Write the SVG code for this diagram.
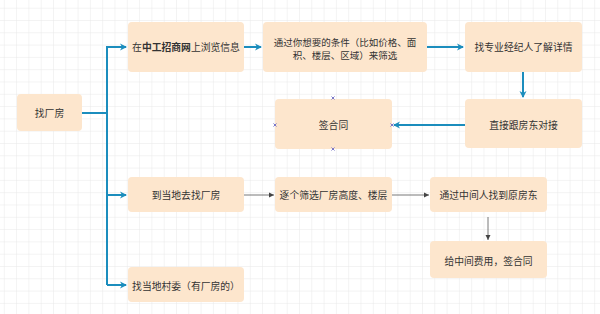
<svg xmlns="http://www.w3.org/2000/svg" width="600" height="314" viewBox="0 0 600 314">
<style>
.box{fill:#fde6cd;}
.t{font-family:"Noto Sans CJK SC","Liberation Sans",sans-serif;font-size:9.8px;fill:#333;text-anchor:middle;dominant-baseline:central;}
.t2{font-size:9.5px;}
.blue{stroke:#1b8dbd;stroke-width:2;fill:none;}
.gray{stroke:#555;stroke-width:0.8;fill:none;}
.x{stroke:#7a78c8;stroke-width:1;}
</style>
<defs>
<pattern id="grid" patternUnits="userSpaceOnUse" x="3.8" y="7.7" width="12.3" height="12.3">
<path d="M0 0H12.3M0 0V12.3" stroke="#e8e8e8" stroke-width="1" fill="none"/>
</pattern>
<marker id="ab" markerWidth="8" markerHeight="8" refX="6" refY="4" orient="auto" markerUnits="userSpaceOnUse">
<path d="M0 0.5L7 4L0 7.5L2 4Z" fill="#1b8dbd"/>
</marker>
<marker id="ag" markerWidth="6" markerHeight="6" refX="5" refY="3" orient="auto" markerUnits="userSpaceOnUse">
<path d="M0 0.5L5 3L0 5.5Z" fill="#444"/>
</marker>
</defs>
<rect width="600" height="314" fill="#ffffff"/>
<rect width="600" height="314" fill="url(#grid)"/>

<g id="connectors">
<path class="blue" d="M82 113H107"/>
<path class="blue" d="M107 285V47H126" marker-end="url(#ab)"/>
<path class="blue" d="M107 195H126" marker-end="url(#ab)"/>
<path class="blue" d="M107 285H126" marker-end="url(#ab)"/>
<path class="blue" d="M244 47H261" marker-end="url(#ab)"/>
<path class="blue" d="M427 47H463" marker-end="url(#ab)"/>
<path class="blue" d="M523 72V97" marker-end="url(#ab)"/>
<path class="blue" d="M465 125H394" marker-end="url(#ab)"/>
<path class="gray" d="M244 195H274" marker-end="url(#ag)"/>
<path class="gray" d="M392 195H429" marker-end="url(#ag)"/>
<path class="gray" d="M488 217V240" marker-end="url(#ag)"/>
</g>

<g id="n-zhaochangfang"><rect class="box" x="17" y="94" width="65" height="37" rx="4"/><text class="t" x="49.5" y="113">找厂房</text></g>
<g id="n-liulan"><rect class="box" x="128" y="22" width="116" height="50" rx="4"/><text class="t" x="186" y="47">在<tspan font-weight="bold">中工招商网</tspan>上浏览信息</text></g>
<g id="n-shaixuan"><rect class="box" x="263" y="22" width="164" height="50" rx="4"/><text class="t t2" x="345" y="41.5">通过你想要的条件（比如价格、面</text><text class="t t2" x="345" y="55">积、楼层、区域）来筛选</text></g>
<g id="n-jingjiren"><rect class="box" x="465" y="22" width="117" height="50" rx="4"/><text class="t" x="523.5" y="47">找专业经纪人了解详情</text></g>
<g id="n-fangdong"><rect class="box" x="465" y="99" width="117" height="49" rx="4"/><text class="t" x="523.5" y="125">直接跟房东对接</text></g>
<g id="n-qianhetong1"><rect class="box" x="275" y="99" width="117" height="50" rx="4"/><text class="t" x="333.5" y="125">签合同</text>
<path class="x" d="M331.5 96.5l3 3M334.5 96.5l-3 3M273.5 123.5l3 3M276.5 123.5l-3 3M390.5 123.5l3 3M393.5 123.5l-3 3M331.5 147.5l3 3M334.5 147.5l-3 3"/></g>
<g id="n-dangdi"><rect class="box" x="128" y="177" width="116" height="35" rx="4"/><text class="t" x="186" y="195">到当地去找厂房</text></g>
<g id="n-zhuge"><rect class="box" x="275" y="177" width="117" height="35" rx="4"/><text class="t" x="333.5" y="195">逐个筛选厂房高度、楼层</text></g>
<g id="n-zhongjian"><rect class="box" x="430" y="177" width="117" height="35" rx="4"/><text class="t" x="488.5" y="195">通过中间人找到原房东</text></g>
<g id="n-feiyong"><rect class="box" x="430" y="241" width="117" height="37" rx="4"/><text class="t" x="488.5" y="261">给中间费用，签合同</text></g>
<g id="n-cunwei"><rect class="box" x="128" y="267" width="116" height="35" rx="4"/><text class="t" x="186" y="286">找当地村委（有厂房的）</text></g>
</svg>
